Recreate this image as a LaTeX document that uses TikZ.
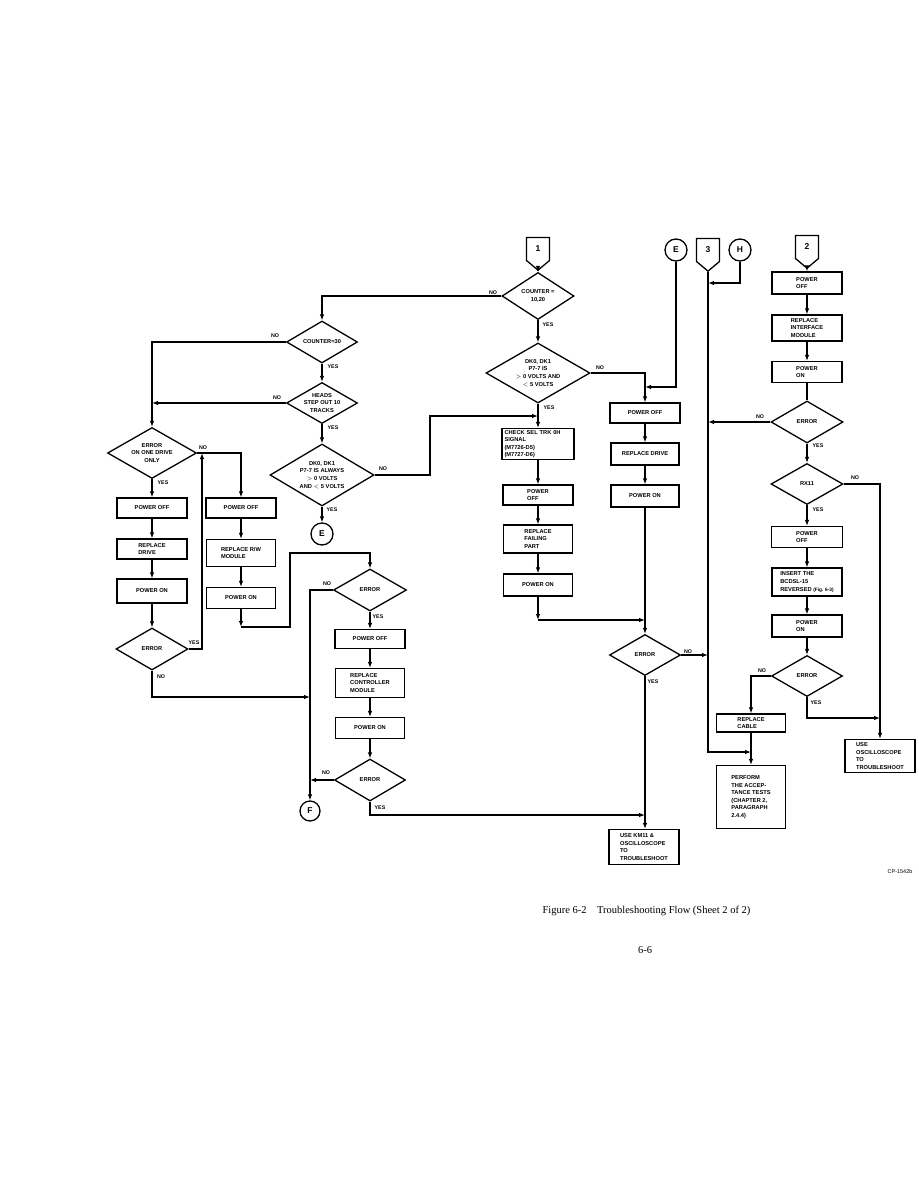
\documentclass[tikz,border=0pt]{standalone}
\usepackage{fontspec}
\setsansfont{Liberation Sans}
\newfontfamily\capfont{Liberation Serif}
\usetikzlibrary{shapes.geometric,shapes.symbols,arrows.meta}
\newcommand\flowfont{\sffamily\bfseries\fontsize{5.7}{7.6}\selectfont}
\newcommand\lblfont{\sffamily\bfseries\fontsize{5.3}{6}\selectfont}
\newcommand\conpfont{\sffamily\bfseries\fontsize{8.5}{9}\selectfont}
\begin{document}
\begin{tikzpicture}[x=1pt,y=-1pt,line width=1.1pt,
  box/.style={draw, rectangle, line width=1.3pt, inner sep=0pt, font=\flowfont, align=center},
  boxl/.style={box, align=left},
  dia/.style={draw, diamond, line width=1.3pt, inner sep=0pt, font=\flowfont, align=center},
  circ/.style={draw, circle, line width=1.3pt, minimum size=22pt, inner sep=0pt, font=\conpfont},
  offp/.style={draw, signal, signal to=south, signal pointer angle=100, line width=1.3pt, minimum width=23pt, minimum height=25pt, inner sep=0pt, font=\conpfont},
  lbl/.style={font=\lblfont, inner sep=0pt},
  arr/.style={-{Latex[length=6pt,width=4.5pt]}},
]
\fill[white] (0,0) rectangle (918,1188);
\useasboundingbox (0,0) rectangle (918,1188);

% ---------- left section ----------
\node[dia, minimum width=71pt, minimum height=42pt, aspect=1.7] (c30) at (322,342) {COUNTER=30};
\node[dia, minimum width=71pt, minimum height=41pt, aspect=1.7] (heads) at (322,403) {HEADS\\STEP OUT 10\\TRACKS};
\node[dia, minimum width=104pt, minimum height=62pt, aspect=1.68] (dkalw) at (322,475) {DK0, DK1\\P7-7 IS ALWAYS\\$>$ 0 VOLTS\\AND $<$ 5 VOLTS};
\node[circ] (ec1) at (322,534) {E};

\node[dia, minimum width=89pt, minimum height=51pt, aspect=1.75] (eood) at (152,453) {ERROR\\ON ONE DRIVE\\ONLY};
\node[box, minimum width=70pt, minimum height=20pt] (poff1) at (152,508) {POWER OFF};
\node[boxl, minimum width=70pt, minimum height=20pt] (repd) at (152,549) {REPLACE\\DRIVE};
\node[box, minimum width=70pt, minimum height=24pt] (pon1) at (152,591) {POWER ON};
\node[dia, minimum width=72pt, minimum height=42pt, aspect=1.7] (err1) at (152,649) {ERROR};

\node[box, minimum width=70pt, minimum height=20pt] (poff2) at (241,508) {POWER OFF};
\node[boxl, minimum width=69pt, minimum height=27pt] (reprw) at (241,553) {REPLACE R/W\\MODULE};
\node[box, minimum width=69pt, minimum height=21pt] (pon2) at (241,598) {POWER ON};

\node[dia, minimum width=73pt, minimum height=42pt, aspect=1.74] (err2) at (370,590) {ERROR};
\node[box, minimum width=70pt, minimum height=19pt] (poff3) at (370,639) {POWER OFF};
\node[boxl, minimum width=69pt, minimum height=29pt] (repc) at (370,683) {REPLACE\\CONTROLLER\\MODULE};
\node[box, minimum width=69pt, minimum height=21pt] (pon3) at (370,728) {POWER ON};
\node[dia, minimum width=71pt, minimum height=42pt, aspect=1.7] (err3) at (370,780) {ERROR};
\node[circ, minimum size=20pt] (fc) at (310,811) {F};

% ---------- middle section ----------
\node[offp] (off1) at (538,249) {1};
\node[dia, minimum width=72pt, minimum height=47pt, aspect=1.53] (c1020) at (538,296) {COUNTER =\\10,20};
\node[dia, minimum width=104pt, minimum height=60pt, aspect=1.73] (dk) at (538,373) {DK0, DK1\\P7-7 IS\\$>$ 0 VOLTS AND\\$<$ 5 VOLTS};
\node[boxl, minimum width=72pt, minimum height=31pt, text width=67pt] (chk) at (538,444) {CHECK SEL TRK 0H\\SIGNAL\\(M7726-D5)\\(M7727-D6)};
\node[boxl, minimum width=70pt, minimum height=20pt] (poff4) at (538,495) {POWER\\OFF};
\node[boxl, minimum width=69pt, minimum height=28pt] (repf) at (538,539) {REPLACE\\FAILING\\PART};
\node[box, minimum width=69pt, minimum height=22pt] (pon4) at (538,585) {POWER ON};

% ---------- right-middle section ----------
\node[circ] (ec2) at (676,250) {E};
\node[offp] (off3) at (708,250) {3};
\node[circ] (hc) at (740,250) {H};
\node[box, minimum width=70pt, minimum height=20pt] (poff5) at (645,413) {POWER OFF};
\node[box, minimum width=68pt, minimum height=22pt] (repdr) at (645,454) {REPLACE DRIVE};
\node[box, minimum width=68pt, minimum height=22pt] (pon5) at (645,496) {POWER ON};
\node[dia, minimum width=71pt, minimum height=41pt, aspect=1.73] (err4) at (645,655) {ERROR};
\node[boxl, minimum width=70pt, minimum height=35pt] (km) at (644,847) {USE KM11 \&\\OSCILLOSCOPE\\TO\\TROUBLESHOOT};

% ---------- right column ----------
\node[offp] (off2) at (807,247) {2};
\node[boxl, minimum width=70pt, minimum height=22pt] (poff6) at (807,283) {POWER\\OFF};
\node[boxl, minimum width=70pt, minimum height=26pt] (repi) at (807,328) {REPLACE\\INTERFACE\\MODULE};
\node[boxl, minimum width=70pt, minimum height=21pt] (pon6) at (807,372) {POWER\\ON};
\node[dia, minimum width=72pt, minimum height=42pt, aspect=1.71] (err5) at (807,422) {ERROR};
\node[dia, minimum width=72pt, minimum height=41pt, aspect=1.75] (rx) at (807,484) {RX11};
\node[boxl, minimum width=71pt, minimum height=21pt] (poff7) at (807,537) {POWER\\OFF};
\node[boxl, minimum width=70pt, minimum height=28pt] (ins) at (807,582) {INSERT THE\\BCDSL-15\\REVERSED {\fontsize{4.8}{7.6}\selectfont(Fig. 6-3)}};
\node[boxl, minimum width=70pt, minimum height=22pt] (pon7) at (807,626) {POWER\\ON};
\node[dia, minimum width=71pt, minimum height=41pt, aspect=1.73] (err6) at (807,676) {ERROR};
\node[boxl, minimum width=69pt, minimum height=18pt] (repcab) at (751,723) {REPLACE\\CABLE};
\node[boxl, minimum width=69pt, minimum height=63pt] (perf) at (751,797) {PERFORM\\THE ACCEP-\\TANCE TESTS\\(CHAPTER 2,\\PARAGRAPH\\2.4.4)};
\node[boxl, minimum width=70pt, minimum height=33pt] (uosc) at (880,756) {USE\\OSCILLOSCOPE\\TO\\TROUBLESHOOT};

% ---------- connectors ----------
\coordinate (j1) at (322,298);
\draw[arr] (off1.south) -- (c1020.north);
\draw[arr] (c1020.west) -- (c1020.west -| j1) -- (c30.north);
\draw[arr] (c1020.south) -- (dk.north);
\coordinate (j2) at (645,373);
\draw[arr] (dk.east) -- (j2) -- (poff5.north);
\coordinate (j3) at (645,387);
\draw[arr] (ec2.south) |- (j3);
\draw[arr] (dk.south) -- (chk.north);
\coordinate (j4) at (430,475);
\coordinate (j5) at (538,416);
\draw[arr] (dkalw.east) -- (j4) |- (j5);

\coordinate (j6) at (152,403);
\draw[arr] (c30.west) -| (eood.north);
\draw[arr] (c30.south) -- (heads.north);
\draw[arr] (heads.west) -- (j6);
\draw[arr] (heads.south) -- (dkalw.north);
\draw[arr] (dkalw.south) -- (ec1.north);

\draw[arr] (eood.east) -| (poff2.north);
\draw[arr] (eood.south) -- (poff1.north);
\draw[arr] (poff1) -- (repd);
\draw[arr] (repd) -- (pon1);
\draw[arr] (pon1) -- (err1.north);
\coordinate (j7) at (202,649);
\coordinate (j8) at (202,453);
\draw[arr] (err1.east) -- (j7) -- (j8);
\coordinate (j9) at (310,697);
\draw[arr] (err1.south) |- (j9);

\draw[arr] (poff2) -- (reprw);
\draw[arr] (reprw) -- (pon2);
\coordinate (j10) at (241,627);
\coordinate (j11) at (290,627);
\coordinate (j12) at (290,553);
\draw[arr] (pon2.south) -- (j10);
\draw[arr] (j10) -- (j11) -- (j12) -| (err2.north);

\draw[arr] (err2.west) -| (fc.north);
\draw[arr] (err2.south) -- (poff3.north);
\draw[arr] (poff3) -- (repc);
\draw[arr] (repc) -- (pon3);
\draw[arr] (pon3) -- (err3.north);
\coordinate (j13) at (310,780);
\draw[arr] (err3.west) -- (j13);
\coordinate (j14) at (645,815);
\draw[arr] (err3.south) |- (j14);

\draw[arr] (chk) -- (poff4);
\draw[arr] (poff4) -- (repf);
\draw[arr] (repf) -- (pon4);
\coordinate (j15) at (538,620);
\coordinate (j16) at (645,620);
\draw[arr] (pon4.south) -- (j15);
\draw[arr] (j15) -- (j16);

\draw[arr] (poff5) -- (repdr);
\draw[arr] (repdr) -- (pon5);
\draw[arr] (pon5.south) -- (err4.north);
\coordinate (j17) at (708,655);
\draw[arr] (err4.east) -- (j17);
\draw[arr] (err4.south) -- (err4.south |- km.north);

\coordinate (j18) at (708,752);
\coordinate (j19) at (751,752);
\draw[arr] (off3.south) -- (j18) -- (j19);
\coordinate (j20) at (708,283);
\draw[arr] (hc.south) |- (j20);

\draw[arr] (off2.south) -- (poff6.north);
\draw[arr] (poff6) -- (repi);
\draw[arr] (repi) -- (pon6);
\draw (pon6) -- (err5.north);
\coordinate (j21) at (708,422);
\draw[arr] (err5.west) -- (j21);
\draw[arr] (err5.south) -- (rx.north);
\draw[arr] (rx.east) -| (uosc.north);
\draw[arr] (rx.south) -- (poff7.north);
\draw[arr] (poff7) -- (ins);
\draw[arr] (ins) -- (pon7);
\draw[arr] (pon7) -- (err6.north);
\draw[arr] (err6.west) -| (repcab.north);
\coordinate (j22) at (880,718);
\draw[arr] (err6.south) |- (j22);
\draw[arr] (repcab) -- (perf);

% ---------- YES / NO labels ----------
\node[lbl] (l1) at (493,293) {NO};
\node[lbl] (l2) at (548,325) {YES};
\node[lbl] (l3) at (600,368) {NO};
\node[lbl] (l4) at (549,408) {YES};
\node[lbl] (l5) at (275,336) {NO};
\node[lbl] (l6) at (333,367) {YES};
\node[lbl] (l7) at (277,398) {NO};
\node[lbl] (l8) at (333,428) {YES};
\node[lbl] (l9) at (383,469) {NO};
\node[lbl] (l10) at (332,510) {YES};
\node[lbl] (l11) at (203,448) {NO};
\node[lbl] (l12) at (163,483) {YES};
\node[lbl] (l13) at (194,643) {YES};
\node[lbl] (l14) at (161,677) {NO};
\node[lbl] (l15) at (327,584) {NO};
\node[lbl] (l16) at (378,617) {YES};
\node[lbl] (l17) at (326,773) {NO};
\node[lbl] (l18) at (380,808) {YES};
\node[lbl] (l19) at (688,652) {NO};
\node[lbl] (l20) at (653,682) {YES};
\node[lbl] (l21) at (760,417) {NO};
\node[lbl] (l22) at (818,446) {YES};
\node[lbl] (l23) at (855,478) {NO};
\node[lbl] (l24) at (818,510) {YES};
\node[lbl] (l25) at (762,671) {NO};
\node[lbl] (l26) at (816,703) {YES};

% ---------- captions ----------
\node[font=\sffamily\fontsize{5.5}{6}\selectfont, inner sep=0pt] (cp) at (900,872) {CP-1542b};
\node[font=\capfont\fontsize{10.5}{12}\selectfont, anchor=west, inner sep=0pt] (cap) at (542,911) {Figure 6-2\hspace{1em}Troubleshooting Flow (Sheet 2 of 2)};
\node[font=\capfont\fontsize{10.5}{12}\selectfont, inner sep=0pt] (pg) at (645,950) {6-6};
\end{tikzpicture}
\end{document}
